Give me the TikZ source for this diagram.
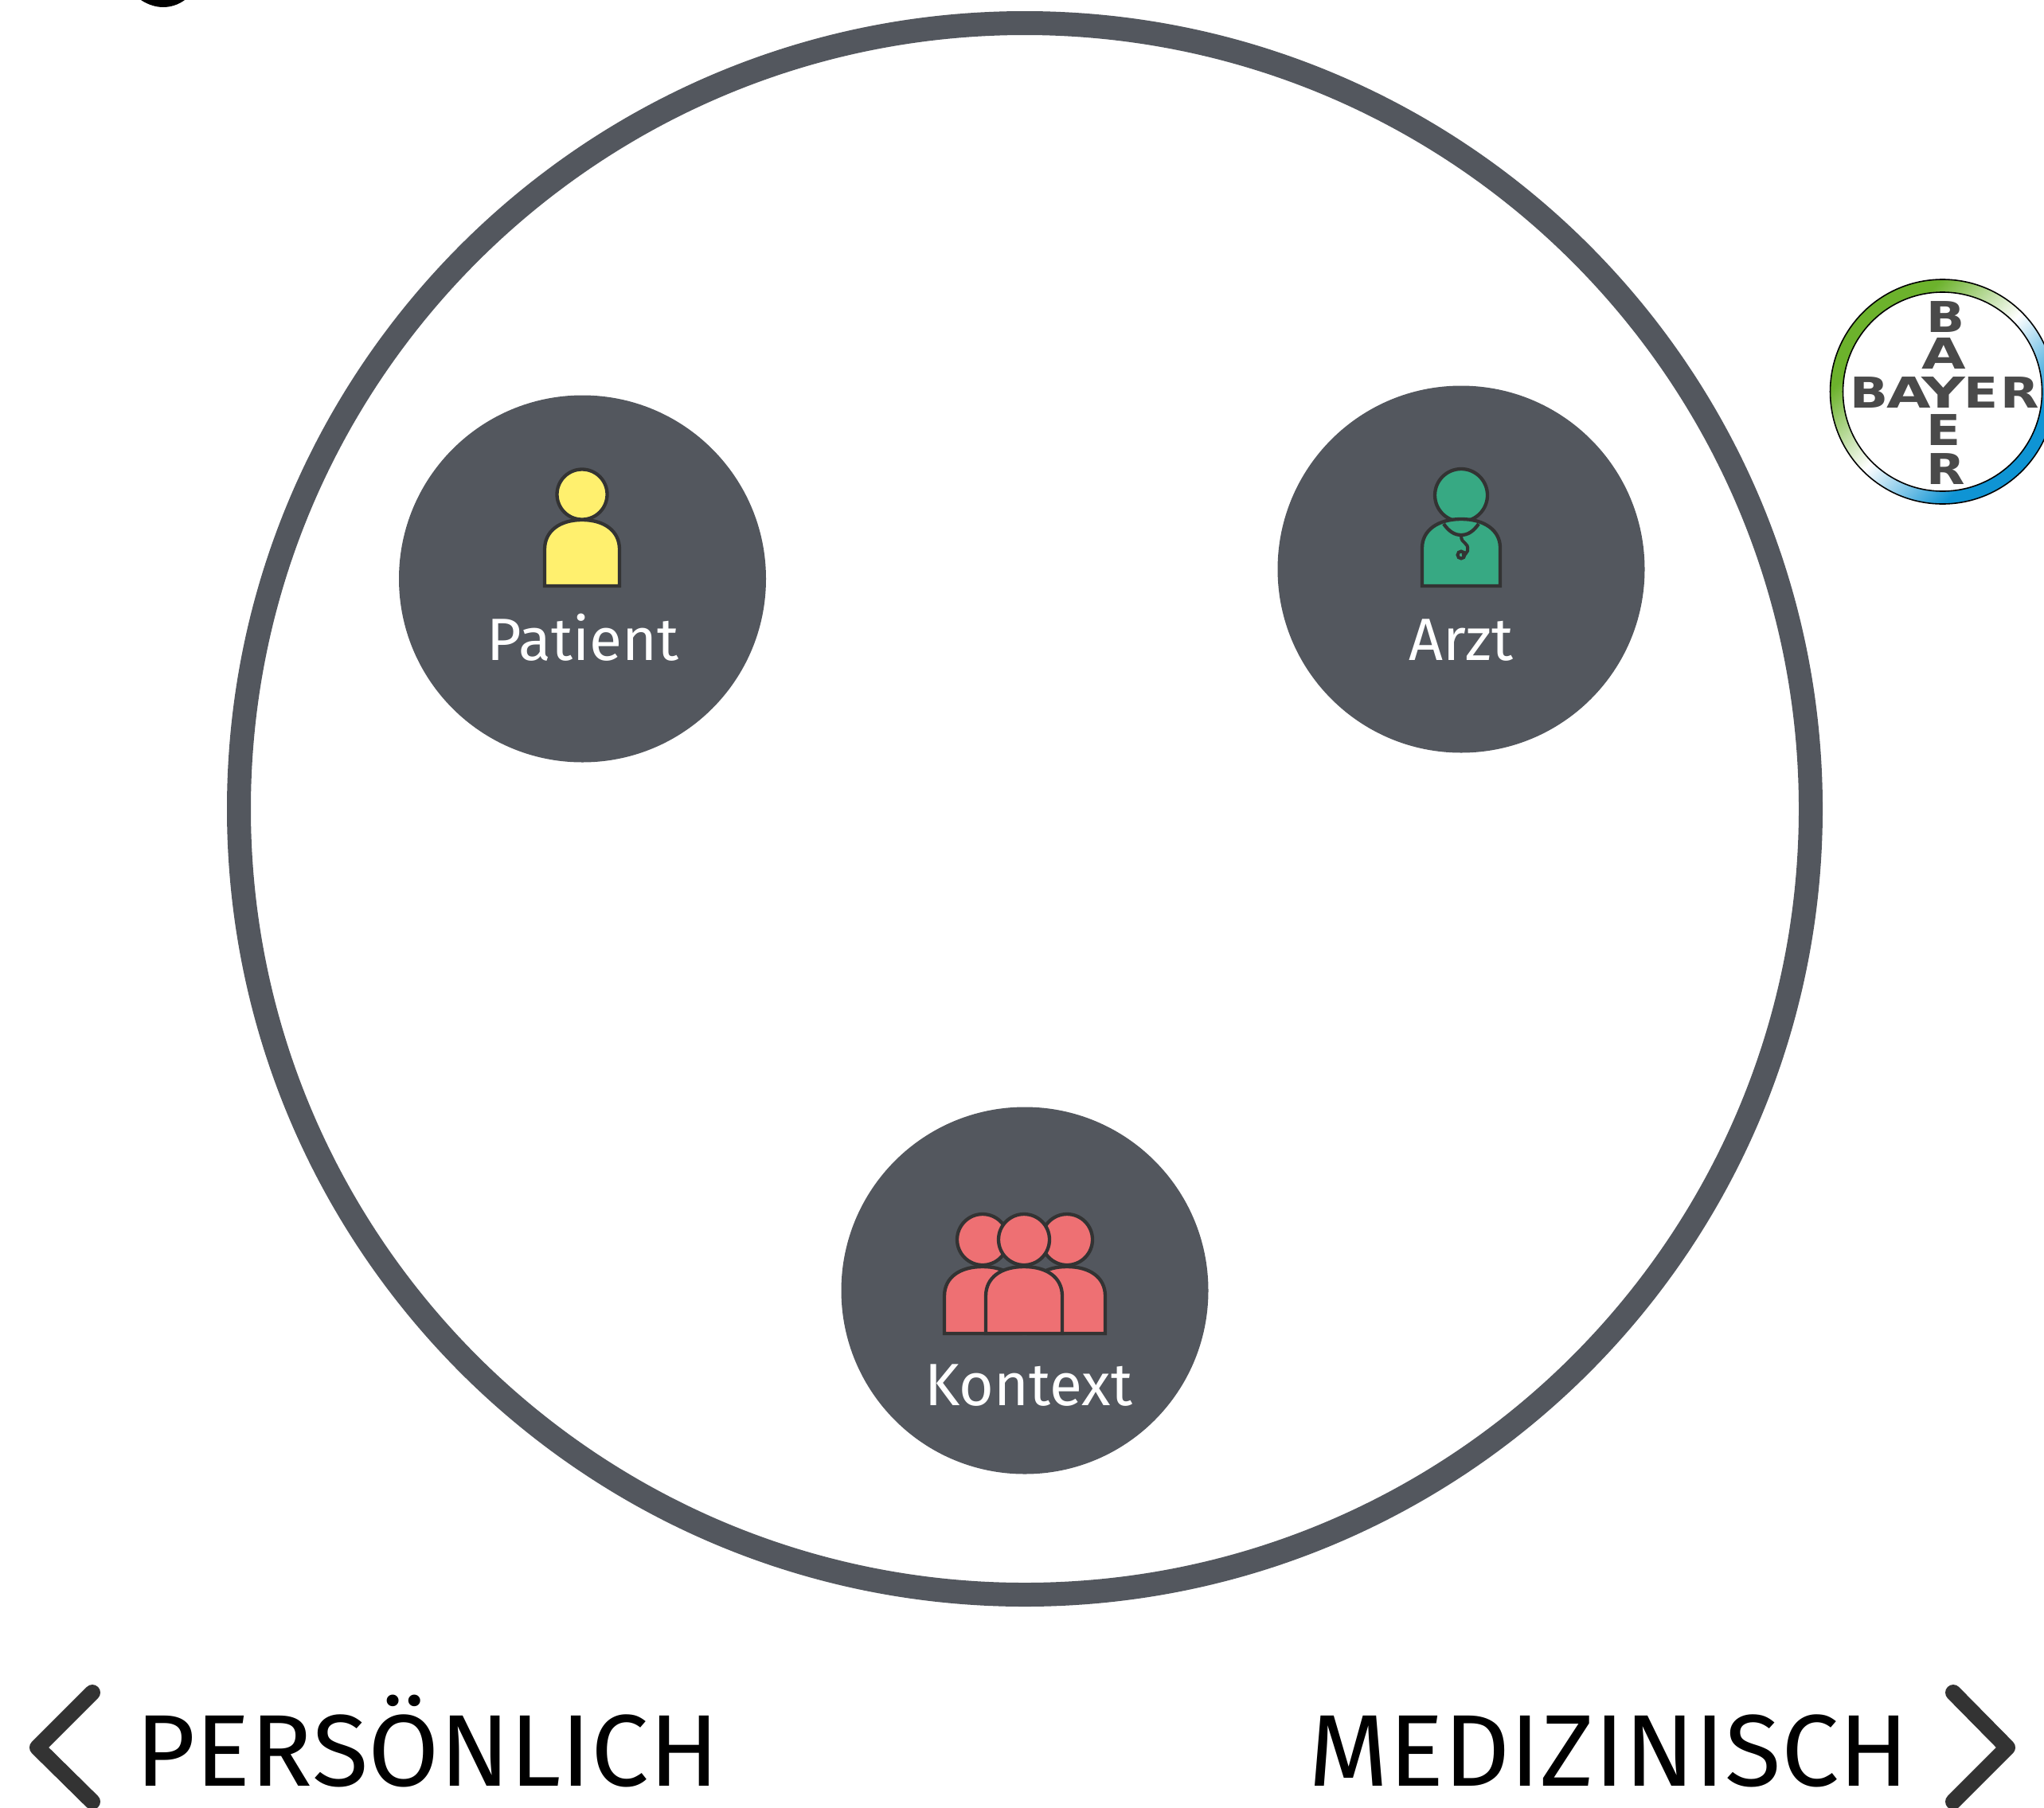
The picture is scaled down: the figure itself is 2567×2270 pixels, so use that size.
\documentclass[tikz,border=0pt]{standalone}
\usepackage{fontspec}
\setmainfont{Fira Sans}
\newfontfamily\logofont{DejaVu Sans}
\definecolor{ringdark}{HTML}{53575E}
\definecolor{iconline}{HTML}{333333}
\definecolor{patfill}{HTML}{FFF06E}
\definecolor{docfill}{HTML}{37A983}
\definecolor{ctxfill}{HTML}{EE7073}
\definecolor{logotext}{HTML}{4A4A4A}
\definecolor{logogreen}{HTML}{6CB22C}
\definecolor{logoblue}{HTML}{0F94D4}
\pgfdeclarehorizontalshading{bayerring}{100bp}{color(0bp)=(logogreen); color(32bp)=(logogreen); color(50bp)=(white); color(68bp)=(logoblue); color(100bp)=(logoblue)}
\tikzset{
  px/.style={x=0.5pt,y=-0.5pt},
  disc/.style={circle,fill=ringdark,minimum size=230.5pt,inner sep=0pt,draw=none},
  iconstroke/.style={draw=iconline,line width=2.15pt,line join=miter},
  biglabel/.style={inner sep=0pt,anchor=base west,xscale=1.01,font=\fontsize{64}{70}\selectfont,text=black},
  disclabel/.style={inner sep=0pt,anchor=base,xscale=1.0,font=\fontsize{37.5}{44}\selectfont,text=white},
  chevron/.style={draw=iconline,line width=10pt,line cap=round,line join=round},
  logoletter/.style={inner sep=0pt,anchor=base,xscale=1.18,font=\logofont\bfseries\fontsize{26.7}{30}\selectfont,text=logotext},
}
\begin{document}
\begin{tikzpicture}[px]
\useasboundingbox (0,0) rectangle (2567,2270);
\fill[white] (0,0) rectangle (2567,2270);
% clipped descender at the top edge
\fill[black] (177,0) .. controls (186,6) and (196,9) .. (205,9) .. controls (214,9) and (224,6) .. (232,0) -- cycle;
% big ring
\node[circle,draw=ringdark,line width=15pt,minimum size=987pt,inner sep=0pt] (ring) at (1287,1016) {};
% discs
\node[disc] (patient) at (731.5,727) {};
\node[disc] (arzt) at (1835,715) {};
\node[disc] (kontext) at (1287,1621) {};
\node[disclabel] (patlabel) at (732,829) {Patient};
\node[disclabel] (arztlabel) at (1835,829) {Arzt};
\node[disclabel] (ktxlabel) at (1292,1765) {Kontext};
% patient icon
\draw[iconstroke,fill=patfill] (684,736) -- (684,690) .. controls (684,667) and (703,653) .. (731,653) .. controls (759,653) and (778,667) .. (778,690) -- (778,736) -- cycle;
\draw[iconstroke,fill=patfill] (731,621) circle [radius=31.5];
% doctor icon
\draw[iconstroke,fill=docfill] (1835,622) circle [radius=33];
\draw[iconstroke,fill=docfill] (1786,736) -- (1786,688) .. controls (1786,666) and (1806,652) .. (1835,652) .. controls (1864,652) and (1884,666) .. (1884,688) -- (1884,736) -- cycle;
\draw[iconstroke,fill=docfill] (1813,658) .. controls (1820,668) and (1827,672) .. (1835,672) .. controls (1843,672) and (1850,668) .. (1857,658);
\draw[iconstroke,line width=2pt] (1835,673) .. controls (1835,684) and (1845,680) .. (1843,692) .. controls (1842,695) and (1840,697) .. (1836,697);
\draw[iconstroke,line width=2pt] (1835,697) circle [radius=4.5];
% context icon
\draw[iconstroke,fill=ctxfill] (1234,1557) circle [radius=32];
\draw[iconstroke,fill=ctxfill] (1340,1557) circle [radius=32];
\draw[iconstroke,fill=ctxfill] (1186,1675) -- (1186,1628) .. controls (1186,1604) and (1206,1591) .. (1234,1591) .. controls (1262,1591) and (1282,1604) .. (1282,1628) -- (1282,1675) -- cycle;
\draw[iconstroke,fill=ctxfill] (1292,1675) -- (1292,1628) .. controls (1292,1604) and (1312,1591) .. (1340,1591) .. controls (1368,1591) and (1388,1604) .. (1388,1628) -- (1388,1675) -- cycle;
\draw[iconstroke,fill=ctxfill] (1286,1557) circle [radius=32];
\draw[iconstroke,fill=ctxfill] (1238,1675) -- (1238,1628) .. controls (1238,1604) and (1258,1591) .. (1286,1591) .. controls (1314,1591) and (1334,1604) .. (1334,1628) -- (1334,1675) -- cycle;
% chevrons and captions
\coordinate (la) at (116,2126);
\coordinate (lb) at (47,2195);
\coordinate (lc) at (116,2263);
\draw[chevron] (la) -- (lb) -- (lc);
\coordinate (ra) at (2453,2126);
\coordinate (rb) at (2521,2195);
\coordinate (rc) at (2453,2263);
\draw[chevron] (ra) -- (rb) -- (rc);
\node[biglabel] (pers) at (170,2243) {PERSÖNLICH};
\node[biglabel] (med) at (1643,2243) {MEDIZINISCH};
% logo
\shade[shading=bayerring,shading angle=-45,even odd rule] (2439.5,492) circle [radius=141] (2439.5,492) circle [radius=125];
\draw[black,line width=0.8pt] (2439.5,492) circle [radius=141];
\draw[black,line width=0.8pt] (2439.5,492) circle [radius=125];
\node[logoletter] (hb) at (2347,512) {B};
\node[logoletter,xscale=1.14] (ha) at (2397,512) {A};
\node[logoletter,xscale=1.2] (hy) at (2441,512) {Y};
\node[logoletter] (he) at (2488,512) {E};
\node[logoletter] (hr) at (2537,512) {R};
\node[logoletter] (vb) at (2443,417) {B};
\node[logoletter,xscale=1.14] (va) at (2441,463) {A};
\node[logoletter] (ve) at (2441,559) {E};
\node[logoletter] (vr) at (2444,608) {R};
\end{tikzpicture}
\end{document}
